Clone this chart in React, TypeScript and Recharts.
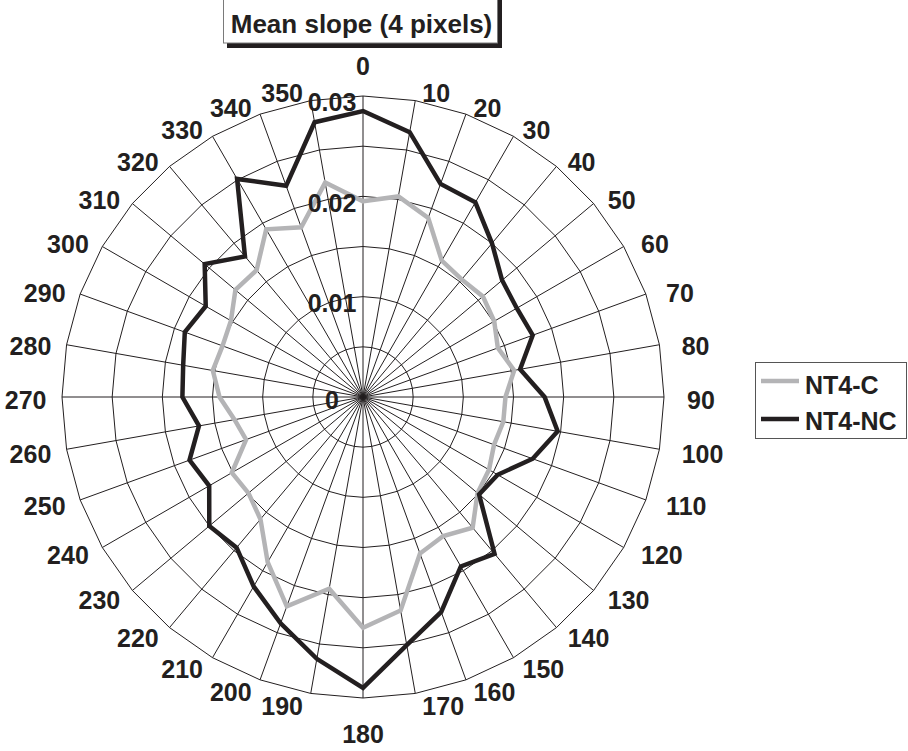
import React from 'react';
import { RadarChart, Radar, PolarGrid, PolarAngleAxis, PolarRadiusAxis } from 'recharts';

// direction in degrees, clockwise from the top
const ANGLES = [
  0, 10, 20, 30, 40, 50, 60, 70, 80, 90, 100, 110, 120, 130, 140, 150, 160, 170,
  180, 190, 200, 210, 220, 230, 240, 250, 260, 270, 280, 290, 300, 310, 320, 330, 340, 350,
];

const NT4_C = [
  0.0195, 0.0203, 0.019, 0.0157, 0.0153, 0.0156, 0.0151, 0.0143, 0.0153, 0.0142, 0.0142, 0.0139,
  0.0145, 0.0149, 0.017, 0.016, 0.0166, 0.0216, 0.023, 0.0194, 0.0222, 0.019, 0.0159, 0.0149,
  0.0151, 0.0124, 0.013, 0.0143, 0.0152, 0.0149, 0.0152, 0.0166, 0.0165, 0.0193, 0.018, 0.0217,
];

const NT4_NC = [
  0.0285, 0.0268, 0.0226, 0.0224, 0.02, 0.0181, 0.0177, 0.018, 0.0159, 0.0181, 0.0197, 0.018,
  0.0155, 0.0151, 0.0204, 0.0195, 0.0228, 0.0251, 0.029, 0.0265, 0.024, 0.0218, 0.0196, 0.02,
  0.0177, 0.0184, 0.0166, 0.018, 0.0182, 0.0189, 0.0181, 0.0206, 0.0183, 0.0251, 0.0224, 0.0278,
];

const RADIUS_TICKS = [0, 0.005, 0.01, 0.015, 0.02, 0.025, 0.03];
const LABELED_TICKS = [0, 0.01, 0.02, 0.03];

const data = ANGLES.map((a, i) => ({ angle: String(a), c: NT4_C[i], nc: NT4_NC[i] }));

const W = 908;
const H = 751;
const CX = 363;
const CY = 397;
const OUTER = 301;
const FONT = '"Liberation Sans", Arial, Helvetica, sans-serif';
const INK = '#231f20';
const GRAY = '#b4b4b6';

const AngleTick = (props: any) => {
  const theta = Number(props.payload.value);
  const rad = (theta * Math.PI) / 180;
  const s = Math.sin(rad);
  const c = Math.cos(rad);
  const rx = CX + OUTER * s;
  const ry = CY - OUTER * c;
  let x = rx;
  let y = ry;
  let anchor = 'middle';
  if (theta === 0) {
    y = ry - 30;
  } else if (theta === 180) {
    y = ry + 36;
  } else if (theta < 180) {
    x = rx + 7 + 16 * Math.pow(Math.abs(s), 3);
    y = ry + 3 - 10 * c;
    anchor = 'start';
  } else {
    x = rx - (7.5 + 8 * s * s);
    y = ry + 3 - 10 * c;
    anchor = 'end';
  }
  return (
    <text x={x} y={y} dy="0.35em" textAnchor={anchor} fontSize={25} fontWeight="bold" fontFamily={FONT} fill={INK}>
      {theta}
    </text>
  );
};

const RadiusTick = (props: any) => {
  const v = Number(props.payload.value);
  if (!LABELED_TICKS.some((t) => Math.abs(t - v) < 1e-9)) return <g />;
  const label = v === 0 ? '0' : v.toFixed(2);
  return (
    <text
      x={CX - 31}
      y={props.y + (v === 0 ? 3 : 6.5)}
      dy="0.35em"
      textAnchor="middle"
      fontSize={25}
      fontWeight="bold"
      fontFamily={FONT}
      fill={INK}
    >
      {label}
    </text>
  );
};

export default function App() {
  return (
    <div style={{ position: 'absolute', left: 0, top: 0, width: W, height: H, background: '#fff' }}>
      <RadarChart
        width={W}
        height={H}
        data={data}
        cx={CX}
        cy={CY}
        outerRadius={OUTER}
        startAngle={90}
        endAngle={-270}
        margin={{ top: 0, right: 0, bottom: 0, left: 0 }}
      >
        <PolarGrid gridType="polygon" stroke={INK} strokeWidth={1} />
        <PolarAngleAxis dataKey="angle" tick={<AngleTick />} tickLine={false} axisLine={false} />
        <Radar
          name="NT4-C"
          dataKey="c"
          stroke={GRAY}
          strokeWidth={4.5}
          fill="none"
          fillOpacity={0}
          dot={false}
          isAnimationActive={false}
        />
        <Radar
          name="NT4-NC"
          dataKey="nc"
          stroke={INK}
          strokeWidth={4.5}
          fill="none"
          fillOpacity={0}
          dot={false}
          isAnimationActive={false}
        />
        <PolarRadiusAxis
          angle={90}
          type="number"
          domain={[0, 0.03]}
          ticks={RADIUS_TICKS}
          tickCount={7}
          axisLine={false}
          tick={<RadiusTick />}
        />
      </RadarChart>

      <svg
        width={W}
        height={H}
        style={{ position: 'absolute', left: 0, top: 0, pointerEvents: 'none' }}
      >
        {/* title box with shadow */}
        <rect x={227} y={-5} width={275} height={53} fill={INK} />
        <rect x={223.5} y={-5} width={274} height={48} fill="#fff" stroke="#7a7a7a" strokeWidth={1} />
        <text x={361.5} y={23.5} dy="0.35em" textAnchor="middle" fontSize={26} fontWeight="bold" fontFamily={FONT} fill={INK}>
          Mean slope (4 pixels)
        </text>

        {/* legend */}
        <rect x={755.5} y={362.5} width={151} height={76} fill="#fff" stroke="#555" strokeWidth={1} />
        <line x1={761} y1={381} x2={799} y2={381} stroke={GRAY} strokeWidth={4.5} />
        <text x={805} y={385} dy="0.35em" fontSize={25} fontWeight="bold" fontFamily={FONT} fill={INK}>
          NT4-C
        </text>
        <line x1={761} y1={419} x2={799} y2={419} stroke={INK} strokeWidth={4.5} />
        <text x={805} y={421.5} dy="0.35em" fontSize={25} fontWeight="bold" fontFamily={FONT} fill={INK}>
          NT4-NC
        </text>
      </svg>
    </div>
  );
}
